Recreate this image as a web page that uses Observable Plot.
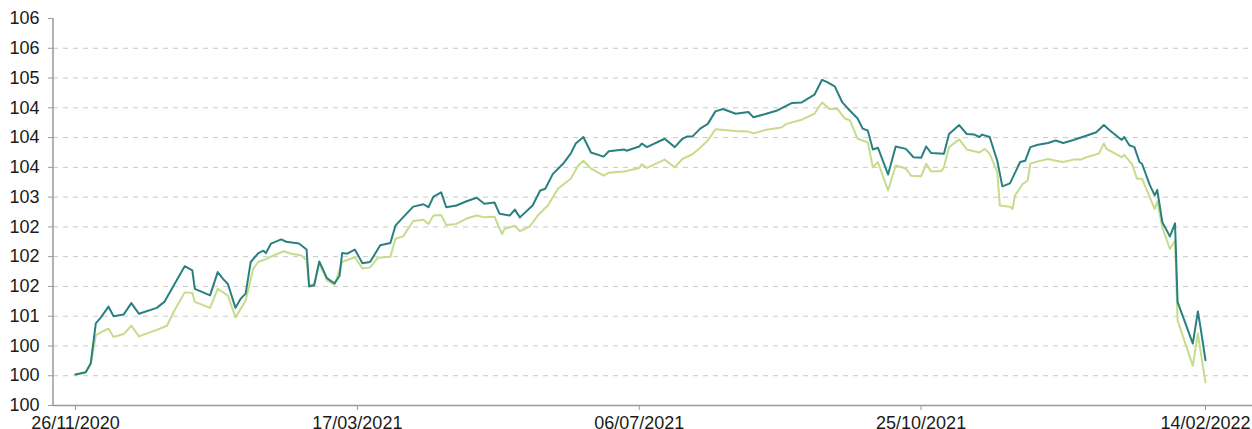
<!DOCTYPE html>
<html>
<head>
<meta charset="utf-8">
<script src="https://cdn.jsdelivr.net/npm/d3@7"></script>
<script src="https://cdn.jsdelivr.net/npm/@observablehq/plot@0.6"></script>
<style>
  html, body { margin: 0; padding: 0; background: #fff; }
</style>
</head>
<body>
<div id="chart"></div>
<script>
// ---- Data ----
const darkDates = ["2020-11-26","2020-11-30","2020-12-02","2020-12-04","2020-12-06","2020-12-09","2020-12-11","2020-12-15","2020-12-18","2020-12-21","2020-12-28","2020-12-31",
"2021-01-04","2021-01-08","2021-01-11","2021-01-12","2021-01-18","2021-01-21","2021-01-23","2021-01-25","2021-01-28","2021-01-30",
"2021-02-01","2021-02-03","2021-02-06","2021-02-08","2021-02-09","2021-02-11","2021-02-15","2021-02-17","2021-02-22","2021-02-25","2021-02-26","2021-02-28",
"2021-03-02","2021-03-05","2021-03-08","2021-03-10","2021-03-11","2021-03-13","2021-03-16","2021-03-19","2021-03-22","2021-03-26","2021-03-30",
"2021-04-01","2021-04-04","2021-04-08","2021-04-12","2021-04-14","2021-04-16","2021-04-19","2021-04-21","2021-04-25","2021-04-29",
"2021-05-03","2021-05-06","2021-05-10","2021-05-12","2021-05-16","2021-05-18","2021-05-20","2021-05-25","2021-05-28","2021-05-30",
"2021-06-02","2021-06-06","2021-06-09","2021-06-11","2021-06-14","2021-06-17","2021-06-22","2021-06-24","2021-06-30",
"2021-07-01","2021-07-06","2021-07-07","2021-07-09","2021-07-16","2021-07-20","2021-07-23","2021-07-25","2021-07-27","2021-07-30",
"2021-08-02","2021-08-05","2021-08-08","2021-08-13","2021-08-18","2021-08-20","2021-08-25","2021-08-29",
"2021-09-04","2021-09-08","2021-09-13","2021-09-16","2021-09-18","2021-09-21","2021-09-24","2021-09-27","2021-09-30",
"2021-10-02","2021-10-04","2021-10-06","2021-10-08","2021-10-12","2021-10-15","2021-10-19","2021-10-22","2021-10-25","2021-10-27","2021-10-29",
"2021-11-03","2021-11-05","2021-11-09","2021-11-12","2021-11-15","2021-11-17","2021-11-18","2021-11-21","2021-11-24","2021-11-26","2021-11-29",
"2021-12-03","2021-12-05","2021-12-07","2021-12-10","2021-12-14","2021-12-17","2021-12-20","2021-12-24","2021-12-29",
"2022-01-02","2022-01-05","2022-01-07","2022-01-12","2022-01-13","2022-01-15","2022-01-17","2022-01-19","2022-01-20","2022-01-23","2022-01-25","2022-01-26","2022-01-28","2022-01-31",
"2022-02-02","2022-02-03","2022-02-09","2022-02-11","2022-02-12","2022-02-14"];
const darkValues = [100.02,100.06,100.21,100.88,100.98,101.16,101.00,101.03,101.22,101.04,101.14,101.24,
101.54,101.84,101.77,101.46,101.35,101.74,101.63,101.54,101.14,101.29,
101.38,101.91,102.06,102.10,102.06,102.22,102.29,102.25,102.22,102.12,101.50,101.52,
101.92,101.64,101.55,101.68,102.06,102.05,102.12,101.89,101.91,102.19,102.23,
102.52,102.66,102.84,102.88,102.83,103.01,103.08,102.83,102.86,102.93,
102.99,102.89,102.91,102.72,102.69,102.79,102.66,102.86,103.11,103.14,
103.39,103.56,103.73,103.90,104.01,103.75,103.68,103.77,103.80,
103.78,103.85,103.90,103.84,103.98,103.84,103.98,104.02,104.02,104.15,
104.23,104.44,104.48,104.40,104.43,104.34,104.40,104.45,
104.58,104.59,104.72,104.97,104.93,104.86,104.59,104.45,104.32,
104.15,104.12,103.80,103.83,103.38,103.85,103.81,103.67,103.66,103.85,103.74,
103.73,104.06,104.21,104.06,104.05,104.01,104.05,104.01,103.61,103.18,103.23,
103.59,103.61,103.84,103.88,103.91,103.95,103.91,103.96,104.03,
104.09,104.21,104.13,103.96,104.01,103.87,103.84,103.59,103.56,103.21,103.03,103.12,102.58,102.34,
102.56,101.24,100.54,101.08,100.82,100.26];

const lightDates = ["2020-11-26","2020-11-30","2020-12-02","2020-12-04","2020-12-06","2020-12-09","2020-12-11","2020-12-15","2020-12-18","2020-12-21","2020-12-28",
"2021-01-01","2021-01-04","2021-01-08","2021-01-11","2021-01-12","2021-01-18","2021-01-21","2021-01-25","2021-01-28",
"2021-02-01","2021-02-04","2021-02-06","2021-02-09","2021-02-12","2021-02-16","2021-02-19","2021-02-23","2021-02-25","2021-02-26","2021-02-28",
"2021-03-02","2021-03-05","2021-03-08","2021-03-11","2021-03-14","2021-03-16","2021-03-19","2021-03-22","2021-03-25","2021-03-30",
"2021-04-01","2021-04-04","2021-04-08","2021-04-12","2021-04-14","2021-04-16","2021-04-19","2021-04-21","2021-04-25","2021-04-29",
"2021-05-03","2021-05-06","2021-05-10","2021-05-13","2021-05-14","2021-05-18","2021-05-20","2021-05-24","2021-05-27","2021-05-31",
"2021-06-04","2021-06-09","2021-06-12","2021-06-14","2021-06-17","2021-06-22","2021-06-24","2021-06-30",
"2021-07-01","2021-07-06","2021-07-07","2021-07-09","2021-07-16","2021-07-20","2021-07-23","2021-07-27","2021-07-30",
"2021-08-02","2021-08-05","2021-08-13","2021-08-18","2021-08-20","2021-08-25","2021-08-31",
"2021-09-02","2021-09-08","2021-09-13","2021-09-16","2021-09-19","2021-09-22","2021-09-25","2021-09-27","2021-09-30",
"2021-10-04","2021-10-06","2021-10-08","2021-10-12","2021-10-15","2021-10-19","2021-10-21","2021-10-25","2021-10-27","2021-10-29",
"2021-11-02","2021-11-03","2021-11-05","2021-11-09","2021-11-12","2021-11-17","2021-11-19","2021-11-21","2021-11-24","2021-11-25","2021-11-29","2021-11-30",
"2021-12-01","2021-12-04","2021-12-06","2021-12-07","2021-12-10","2021-12-14","2021-12-17","2021-12-20","2021-12-24","2021-12-27","2021-12-29",
"2022-01-03","2022-01-05","2022-01-06","2022-01-12","2022-01-13","2022-01-16","2022-01-18","2022-01-20","2022-01-25","2022-01-26","2022-01-28","2022-01-31",
"2022-02-02","2022-02-03","2022-02-09","2022-02-11","2022-02-12","2022-02-14"];
const lightValues = [100.02,100.05,100.19,100.68,100.73,100.79,100.65,100.70,100.84,100.66,100.77,
100.84,101.10,101.40,101.39,101.24,101.14,101.46,101.35,100.98,
101.26,101.80,101.91,101.96,102.02,102.09,102.05,102.02,101.94,101.52,101.54,
101.89,101.60,101.53,101.91,101.96,101.99,101.80,101.82,101.98,102.00,
102.30,102.34,102.60,102.62,102.55,102.69,102.70,102.53,102.55,102.64,
102.69,102.66,102.67,102.38,102.47,102.52,102.43,102.51,102.69,102.86,
103.14,103.31,103.53,103.61,103.48,103.36,103.41,103.43,
103.44,103.49,103.55,103.49,103.63,103.50,103.64,103.72,103.83,
103.95,104.14,104.11,104.10,104.07,104.13,104.17,
104.23,104.30,104.40,104.59,104.48,104.48,104.32,104.29,103.98,
103.92,103.50,103.59,103.11,103.53,103.48,103.36,103.35,103.56,103.43,
103.44,103.50,103.84,103.97,103.80,103.75,103.81,103.73,103.42,102.86,102.84,102.80,
103.03,103.22,103.28,103.56,103.60,103.64,103.61,103.59,103.63,103.63,103.67,
103.73,103.90,103.81,103.67,103.71,103.56,103.31,103.31,102.80,102.93,102.49,102.13,
102.27,100.93,100.17,100.71,100.42,99.89];

const xTickDates = ["2020-11-26","2021-03-17","2021-07-06","2021-10-25","2022-02-14"];
const yTickValues = [99.5,100,100.5,101,101.5,102,102.5,103,103.5,104,104.5,105,105.5,106];
const yTickLabels = ["100","100","100","101","102","102","102","103","104","104","104","105","106","106"];
const gridValues = [100,100.5,101,101.5,102,102.5,103,103.5,104,104.5,105,105.5];

// ---- Build tables ----
const dark = darkDates.map((d, i) => ({date: new Date(d), value: darkValues[i]}));
const light = lightDates.map((d, i) => ({date: new Date(d), value: lightValues[i]}));
const xTicks = xTickDates.map(d => new Date(d));
const fmt = d3.utcFormat("%d/%m/%Y");

const W = 1252, H = 429;
const chart = Plot.plot({
  width: W,
  height: H,
  marginLeft: 53,
  marginRight: 0,
  marginTop: 18,
  marginBottom: 24,
  style: {fontFamily: "'Liberation Sans', Arial, sans-serif", fontSize: "18px", background: "#fff", overflow: "visible"},
  x: {type: "utc", domain: [xTicks[0], xTicks[xTicks.length - 1]], insetLeft: 22, insetRight: 47},
  y: {domain: [99.5, 106]},
  marks: [
    Plot.ruleY(gridValues, {stroke: "#c8c8c8", strokeWidth: 1, strokeDasharray: "5,5"}),
    Plot.ruleY([99.5], {stroke: "#9a9a9a", strokeWidth: 1.5}),
    Plot.axisY({ticks: yTickValues, tickFormat: (d) => yTickLabels[yTickValues.indexOf(d)], tickSize: 5, tickPadding: 9, stroke: "#9a9a9a", fill: "#1a1a1a", label: null}),
    Plot.axisX({ticks: xTicks, tickFormat: fmt, tickSize: 5, tickPadding: 6, stroke: "#9a9a9a", fill: "#1a1a1a", label: null}),
    Plot.line(light, {x: "date", y: "value", stroke: "#c6dc8c", strokeWidth: 2}),
    Plot.line(dark, {x: "date", y: "value", stroke: "#2a8080", strokeWidth: 2})
  ]
});

// left axis line along the frame edge
const svg = d3.select(chart);
svg.append("line")
  .attr("x1", 53).attr("x2", 53)
  .attr("y1", 18).attr("y2", H - 24)
  .attr("stroke", "#9a9a9a").attr("stroke-width", 1.5);

document.getElementById("chart").appendChild(chart);
</script>
</body>
</html>
